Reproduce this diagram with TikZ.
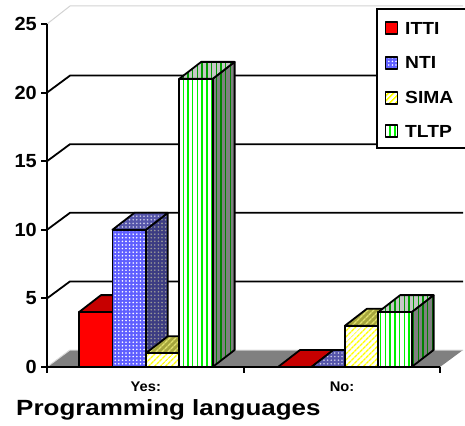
\documentclass[tikz,border=0pt]{standalone}
\usepackage{fontspec}
\setmainfont{Liberation Sans}
\usetikzlibrary{patterns.meta}

\definecolor{ntiblue}{RGB}{95,95,255}
\definecolor{ntitop}{RGB}{85,85,170}
\definecolor{ntiside}{RGB}{60,60,130}
\definecolor{simayel}{RGB}{255,255,0}
\definecolor{simatop}{RGB}{165,165,60}
\definecolor{simastripe}{RGB}{225,225,110}
\definecolor{tltpgreen}{RGB}{0,240,0}
\definecolor{tltpdark}{RGB}{0,130,0}

\tikzset{
	barline/.style={draw=black, line width=1.8pt, line join=round},
	ittiF/.style={barline, fill=red},
	ittiT/.style={barline, fill=red!78!black},
	ittiS/.style={barline, fill=red!55!black},
	ntiF/.style={barline, preaction={fill=ntiblue}, pattern={Dots[distance=3.6pt, radius=0.9pt]}, pattern color=white},
	ntiT/.style={barline, preaction={fill=ntitop}, pattern={Dots[distance=3.6pt, radius=0.9pt]}, pattern color=white!70!ntitop},
	ntiS/.style={barline, preaction={fill=ntiside}, pattern={Dots[distance=3.6pt, radius=0.9pt]}, pattern color=gray!80},
	simaF/.style={barline, preaction={fill=white}, pattern={Lines[angle=45, distance=4pt, line width=1.6pt]}, pattern color=simayel},
	simaT/.style={barline, preaction={fill=simatop}, pattern={Lines[angle=45, distance=4pt, line width=1.5pt]}, pattern color=simastripe},
	simaS/.style={barline, preaction={fill=simatop!70!black}, pattern={Lines[angle=45, distance=4pt, line width=1.5pt]}, pattern color=simatop},
	tltpF/.style={barline, preaction={fill=white}, pattern={Lines[angle=90, distance=4.7pt, line width=1.4pt]}, pattern color=tltpgreen},
	tltpT/.style={barline, preaction={fill=gray!45}, pattern={Lines[angle=90, distance=4.7pt, line width=1.4pt]}, pattern color=tltpdark!80!green},
	tltpS/.style={barline, preaction={fill=gray}, pattern={Lines[angle=90, distance=4.7pt, line width=1.4pt]}, pattern color=tltpdark},
	grid/.style={line width=1.8pt},
	ylab/.style={anchor=east, inner sep=0pt, font=\bfseries\fontsize{19}{19}\selectfont, xscale=1.05, transform shape},
	catlab/.style={inner sep=0pt, font=\bfseries\fontsize{14}{14}\selectfont, xscale=1.05, transform shape},
	leglab/.style={anchor=west, inner sep=0pt, font=\bfseries\fontsize{17.5}{17.5}\selectfont, xscale=1.1, transform shape},
	swatch/.style={line width=1.8pt, minimum size=12pt, inner sep=0pt}
}

% 3-D column: left x, value, front, top, side
\newcommand{\colbar}[5]{%
	\pgfmathsetmacro{\bt}{367-#2*13.72}
	\path[#5] (#1+33.4,367) -- ++(22,-17) -- (#1+55.4,\bt-17) -- (#1+33.4,\bt) -- cycle;
	\path[#4] (#1,\bt) -- (#1+33.4,\bt) -- (#1+55.4,\bt-17) -- (#1+22,\bt-17) -- cycle;
	\path[#3] (#1,367) rectangle (#1+33.4,\bt);
}

\begin{document}
\begin{tikzpicture}[x=1pt,y=-1pt]
	\useasboundingbox (0,0) rectangle (465,425);
	% back wall
	\draw[gray!35, line width=1pt] (47,24) -- (70,6) -- (463,6);
	\foreach \v in {5,10,15,20}
		\draw[grid] (47,{367-\v*13.72}) -- ++(23,-17) -- (463,{350-\v*13.72});
	% floor
	\fill[gray] (47,367) -- (440,367) -- (463,350) -- (70,350) -- cycle;
	\draw[gray!30, line width=1pt] (47,367) -- (70,350) -- (463,350);
	% Yes:
	\colbar{79}{4}{ittiF}{ittiT}{ittiS}
	\colbar{112.4}{10}{ntiF}{ntiT}{ntiS}
	\colbar{145.8}{1}{simaF}{simaT}{simaS}
	\colbar{179.2}{21}{tltpF}{tltpT}{tltpS}
	% No:
	\colbar{278}{0}{ittiF}{ittiT}{ittiS}
	\colbar{311.4}{0}{ntiF}{ntiT}{ntiS}
	\colbar{344.8}{3}{simaF}{simaT}{simaS}
	\colbar{378.2}{4}{tltpF}{tltpT}{tltpS}
	% axes
	\draw[line width=2pt] (47,24) -- (47,371);
	\draw[line width=2pt] (45,367) -- (440,367);
	\foreach \v in {0,5,...,25} {
		\draw[line width=2pt] (41,{367-\v*13.72}) -- (47,{367-\v*13.72});
		\node[ylab] (y\v) at (37,{367-\v*13.72}) {\v};
	}
	\foreach \x in {47,244,440}
		\draw[line width=2pt] (\x,367) -- (\x,373);
	\node[catlab] (yes) at (145.8,387) {Yes:};
	\node[catlab] (no) at (342,387) {No:};
	\node[anchor=base west, inner sep=0pt, font=\bfseries\fontsize{22}{22}\selectfont, xscale=1.18, transform shape] (title) at (16,415) {Programming languages};
	% legend
	\draw[line width=1.8pt, fill=white] (376.7,9.3) rectangle (475,147.7);
	\node[swatch, ittiF] (k1) at (391.5,28.3) {};
	\node[swatch, ntiF] (k2) at (391.5,62.7) {};
	\node[swatch, simaF] (k3) at (391.5,97.7) {};
	\node[swatch, tltpF] (k4) at (391.5,131) {};
	\node[leglab] (l1) at (405,28.3) {ITTI};
	\node[leglab] (l2) at (405,62.7) {NTI};
	\node[leglab] (l3) at (405,97.7) {SIMA};
	\node[leglab] (l4) at (405,131) {TLTP};
\end{tikzpicture}
\end{document}
